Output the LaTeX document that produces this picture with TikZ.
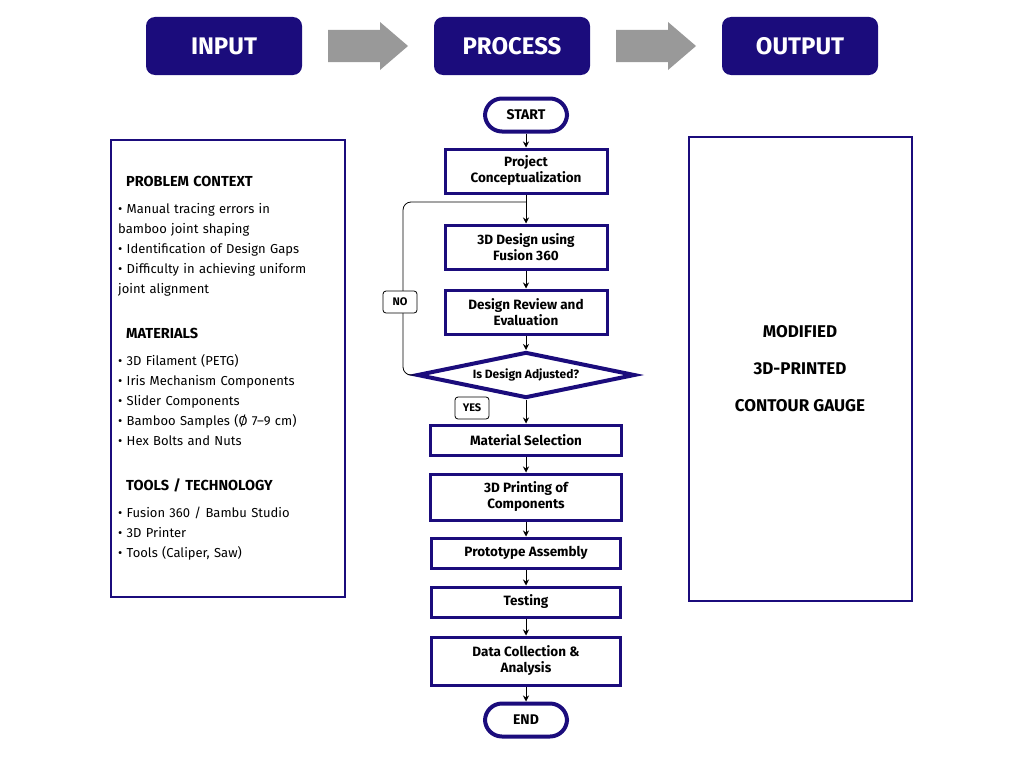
\documentclass[tikz,border=0pt]{standalone}
\usepackage{fontspec}
\setmainfont{Fira Sans}
\usetikzlibrary{arrows.meta,shapes.geometric,shapes.arrows,positioning}
\definecolor{navy}{HTML}{1B0C7C}
\begin{document}
\begin{tikzpicture}[x=1pt,y=-1pt,
            head/.style={fill=navy,rounded corners=9pt,minimum width=156pt,minimum height=58pt,text=white,font=\fontsize{24}{26}\selectfont\bfseries},
            stage/.style={draw=navy,line width=3pt,minimum width=162pt,minimum height=44pt,align=center,font=\fontsize{13.5}{16}\selectfont\bfseries},
            term/.style={draw=navy,line width=4pt,rounded corners=17pt,minimum width=82pt,minimum height=33pt,font=\fontsize{14}{16}\selectfont\bfseries},
            tag/.style={draw,thick,rounded corners=3pt,minimum width=34pt,minimum height=22pt,font=\fontsize{11}{13}\selectfont\bfseries},
            bigarrow/.style={single arrow,fill=gray!80,draw=none,minimum width=50pt,single arrow head extend=0pt,single arrow head indent=0pt,minimum height=80pt,inner sep=0pt,shape border uses incircle=false},
            to/.style={-{Stealth[length=6pt,width=6pt]},thick}
  ]
  \useasboundingbox (0,0) rectangle (1024,768);

  % header row
  \node[head] (input) at (224,46) {INPUT};
  \node[head] (process) at (512,46) {PROCESS};
  \node[head] (output) at (800,46) {OUTPUT};
  \fill[gray!80] (328,30) -- (380,30) -- (380,22) -- (408,46) -- (380,70) -- (380,62) -- (328,62) -- cycle;
  \fill[gray!80] (616,30) -- (668,30) -- (668,22) -- (696,46) -- (668,70) -- (668,62) -- (616,62) -- cycle;

  % input panel
  \draw[navy,line width=2.5pt] (111,140) rectangle (345,597);
  \node[anchor=north west,align=left,text width=228pt,font=\fontsize{13}{20}\selectfont,inner sep=0pt] (inbox) at (118,176) {%
    \hspace*{8pt}{\fontsize{14.5}{20}\selectfont\bfseries PROBLEM CONTEXT}\\[7pt]
    • Manual tracing errors in\\ bamboo joint shaping\\
    • Identification of Design Gaps\\
    • Difficulty in achieving uniform\\ joint alignment\\[25pt]
    \hspace*{8pt}{\fontsize{14.5}{20}\selectfont\bfseries MATERIALS}\\[7pt]
    • 3D Filament (PETG)\\
    • Iris Mechanism Components\\
    • Slider Components\\
    • Bamboo Samples (Ø 7–9 cm)\\
    • Hex Bolts and Nuts\\[25pt]
    \hspace*{8pt}{\fontsize{14.5}{20}\selectfont\bfseries TOOLS / TECHNOLOGY}\\[7pt]
    • Fusion 360 / Bambu Studio\\
    • 3D Printer\\
    • Tools (Caliper, Saw)};

  % output panel
  \draw[navy,line width=2.5pt] (689,137) rectangle (912,601);
  \node[align=center,font=\fontsize{17}{37}\selectfont\bfseries] (result) at (800,369) {MODIFIED\\3D-PRINTED\\CONTOUR GAUGE};

  % process flow
  \node[term] (start) at (526,115) {START};
  \node[stage] (concept) at (526,171) {Project\\Conceptualization};
  \node[stage] (design) at (526,247) {3D Design using\\Fusion 360};
  \node[stage] (review) at (526,312) {Design Review and\\Evaluation};
  \node[diamond,draw=navy,line width=4pt,aspect=4.7,inner sep=1pt,minimum width=218pt,minimum height=46pt,font=\fontsize{12}{14}\selectfont\bfseries] (adjust) at (526,375) {Is Design Adjusted?};
  \node[stage,minimum width=191pt,minimum height=30pt] (material) at (526,440) {Material Selection};
  \node[stage,minimum width=191pt,minimum height=46pt] (printing) at (526,497) {3D Printing of\\Components};
  \node[stage,minimum width=189pt,minimum height=30pt] (assembly) at (526,553) {Prototype Assembly};
  \node[stage,minimum width=189pt,minimum height=30pt] (testing) at (526,602) {Testing};
  \node[stage,minimum width=189pt,minimum height=48pt] (data) at (526,661) {Data Collection \&\\Analysis};
  \node[term] (end) at (526,720) {END};

  \coordinate (join) at (526,202);
  \draw[to] (start) -- (concept);
  \draw[thick] (concept) -- (join);
  \draw[to] (join) -- (design);
  \draw[to] (design) -- (review);
  \draw[to] (review) -- (adjust);
  \draw[to] (adjust) -- (material);
  \draw[to] (material) -- (printing);
  \draw[to] (printing) -- (assembly);
  \draw[to] (assembly) -- (testing);
  \draw[to] (testing) -- (data);
  \draw[to] (data) -- (end);
  \draw[thick,rounded corners=8pt] (adjust.west) -- (403,375) -- (403,202) -- (join);

  \node[tag,fill=white] (no) at (400,302) {NO};
  \node[tag] (yes) at (472,408) {YES};
\end{tikzpicture}
\end{document}
